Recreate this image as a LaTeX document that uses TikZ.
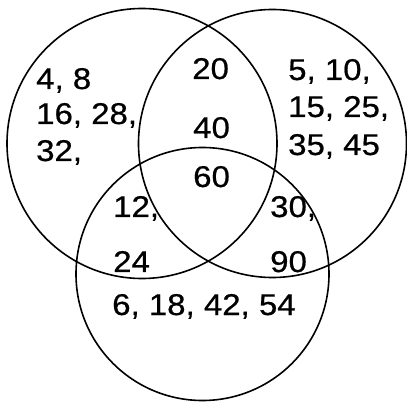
\documentclass[tikz,border=0pt]{standalone}
\usepackage{fontspec}
\setmainfont[FakeStretch=1.1,FakeBold=0.6]{Liberation Sans}
\begin{document}
\begin{tikzpicture}[x=1pt,y=1pt,
  ring/.style={draw=black,line width=1.6pt},
  num/.style={inner sep=0pt,anchor=base west,font=\fontsize{30}{36}\selectfont}]
\useasboundingbox (0,0) rectangle (407,402);
\node[ring,circle,minimum size=270pt,inner sep=0pt] (A) at (142,258.5) {};
\node[ring,circle,minimum size=268pt,inner sep=0pt] (B) at (272.5,258.5) {};
\node[ring,circle,minimum size=253pt,inner sep=0pt] (C) at (202.5,128) {};
% A only
\node[num] (a1) at (36,313) {4, 8};
\node[num] (a2) at (36,278) {16, 28,};
\node[num] (a3) at (36,241) {32,};
% B only
\node[num] (b1) at (288,322) {5, 10,};
\node[num] (b2) at (288,285) {15, 25,};
\node[num] (b3) at (288,247) {35, 45};
% A and B
\node[num] (ab1) at (192,323) {20};
\node[num] (ab2) at (193,264) {40};
\node[num] (abc) at (193,215) {60};
% A and C
\node[num] (ac1) at (113,185) {12,};
\node[num] (ac2) at (113,130) {24};
% B and C
\node[num] (bc1) at (270,185) {30,};
\node[num] (bc2) at (270,130) {90};
% C only
\node[num] (c1) at (112,87) {6, 18, 42, 54};
\end{tikzpicture}
\end{document}
